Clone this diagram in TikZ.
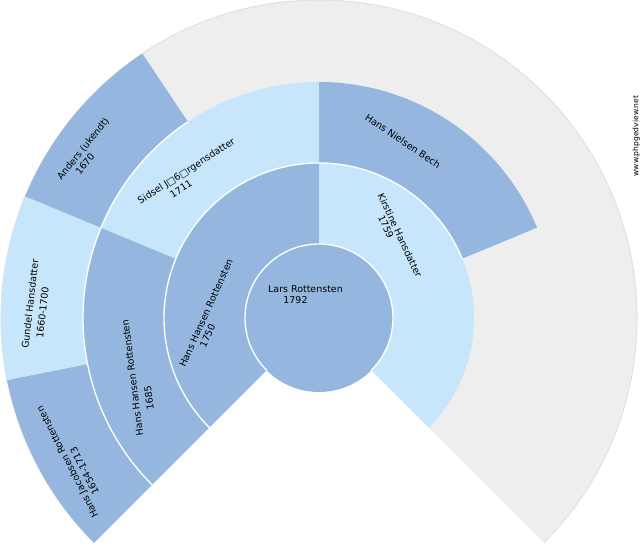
\documentclass[tikz,border=0pt]{standalone}
\usepackage{fontspec}
\setmainfont{DejaVu Sans}
\definecolor{fdark}{RGB}{149,183,223}
\definecolor{flight}{RGB}{199,229,251}
\definecolor{fgray}{RGB}{238,238,238}
\definecolor{fedge}{RGB}{226,226,226}
\newcommand{\fanseg}[5]{\fill[#1] (#2:#4) -- (#2:#5) arc[start angle=#2,end angle=#3,radius=#5] -- (#3:#4) arc[start angle=#3,end angle=#2,radius=#4] -- cycle;}
\begin{document}
\begin{tikzpicture}[x=0.75pt,y=0.75pt,
  lbl/.style={font=\fontsize{7.1}{8}\selectfont, inner sep=0pt, text=black},
  wmark/.style={font=\fontsize{5.7}{6}\selectfont, inner sep=0pt, text=black},
  sepline/.style={white, line width=1pt}]
\useasboundingbox (0,0) rectangle (640,550);
\begin{scope}[shift={(319,232)}]
  % outer gray base
  \fanseg{fgray}{-45}{225}{74}{318}
  \draw[fedge, line width=0.8pt] (-45:318) arc[start angle=-45,end angle=225,radius=318];
  % ring 3 (great-grandparents)
  \fanseg{fdark}{191.25}{225}{236}{318}
  \fanseg{flight}{157.5}{191.25}{236}{318}
  \fanseg{fdark}{123.75}{157.5}{236}{318}
  % ring 2 (grandparents)
  \fanseg{fdark}{157.5}{225}{155}{236}
  \fanseg{flight}{90}{157.5}{155}{236}
  \fanseg{fdark}{22.5}{90}{155}{236}
  % ring 1 (parents)
  \fanseg{fdark}{90}{225}{74}{155}
  \fanseg{flight}{-45}{90}{74}{155}
  % centre
  \fill[fdark] (0,0) circle[radius=74];
  % separators
  \draw[sepline] (-45:74) arc[start angle=-45,end angle=225,radius=74];
  \draw[sepline] (22.5:155) arc[start angle=22.5,end angle=225,radius=155];
  \draw[sepline] (123.75:236) arc[start angle=123.75,end angle=225,radius=236];
\end{scope}
% labels
\node[lbl] (c1) at (305.5,261) {Lars Rottensten};
\node[lbl] (c2) at (295.5,250) {1792};
\node[lbl, rotate=65.8] (f1) at (206,237) {Hans Hansen Rottensten};
\node[lbl, rotate=65.8] (f2) at (207.5,214) {1750};
\node[lbl, rotate=-65] (m1) at (400,314.5) {Kirstine Hansdatter};
\node[lbl, rotate=-65] (m2) at (386,323.3) {1759};
\node[lbl, rotate=32.7] (s1) at (186.7,378.3) {Sidsel J□6□rgensdatter};
\node[lbl, rotate=32.7] (s2) at (181,361) {1711};
\node[lbl, rotate=97.3] (h1) at (132.5,172) {Hans Hansen Rottensten};
\node[lbl, rotate=97.3] (h2) at (149,152.5) {1685};
\node[lbl, rotate=-34] (nb) at (403,409) {Hans Nielsen Bech};
\node[lbl, rotate=51] (a1) at (83.3,401) {Anders (ukendt)};
\node[lbl, rotate=51] (a2) at (85,386) {1670};
\node[lbl, rotate=83.5] (g1) at (30,246) {Gundel Hansdatter};
\node[lbl, rotate=83.5] (g2) at (42.5,237.5) {1660-1700};
\node[lbl, rotate=117] (j1) at (68,88) {Hans Jacobsen Rottensten};
\node[lbl, rotate=117] (j2) at (84.5,79) {1654-1713};
\node[wmark, rotate=90] (www) at (636.3,414) {www.phpgedview.net};
\end{tikzpicture}
\end{document}
